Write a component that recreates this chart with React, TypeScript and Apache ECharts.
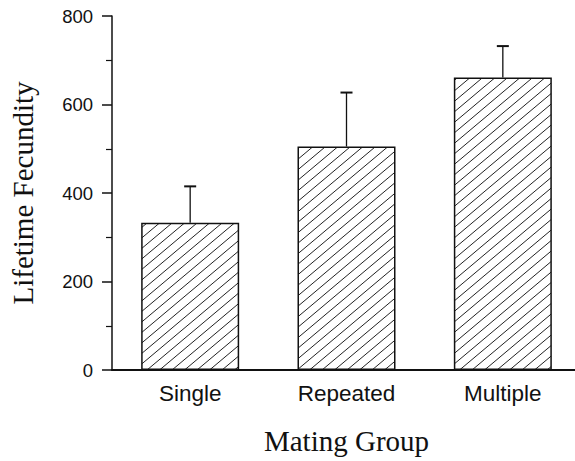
import React, { useEffect, useRef } from "react";
import * as echarts from "echarts";

const categories = ["Single", "Repeated", "Multiple"];
const means = [333, 505, 661];
const errorTops = [415, 627, 732];
const yTicks = { min: 0, max: 800, interval: 200 };

function makeHatch(): HTMLCanvasElement {
  const w = 25;
  const h = 21;
  const c = document.createElement("canvas");
  c.width = w;
  c.height = h;
  const ctx = c.getContext("2d")!;
  ctx.fillStyle = "#ffffff";
  ctx.fillRect(0, 0, w, h);
  ctx.strokeStyle = "#222";
  ctx.lineWidth = 1;
  ctx.beginPath();
  for (let k = -2; k <= 2; k++) {
    const b = k * (h / 2);
    const x0 = -3;
    const x1 = w + 3;
    ctx.moveTo(x0, h - (h / w) * x0 + b);
    ctx.lineTo(x1, h - (h / w) * x1 + b);
  }
  ctx.stroke();
  return c;
}

export default function App() {
  const ref = useRef<HTMLDivElement>(null);
  useEffect(() => {
    const chart = echarts.init(ref.current!, null, { renderer: "svg" });
    const hatch = makeHatch();
    chart.setOption({
      animation: false,
      backgroundColor: "#ffffff",
      grid: { left: 110, right: 0, top: 16, bottom: 91, containLabel: false },
      xAxis: {
        type: "category",
        data: categories,
        name: "Mating Group",
        nameLocation: "middle",
        nameGap: 56,
        nameTextStyle: { fontFamily: "Liberation Serif", fontSize: 29, color: "#111" },
        axisLine: { show: true, lineStyle: { color: "#111", width: 2 } },
        axisTick: { show: false },
        axisLabel: { fontFamily: "Liberation Sans", fontSize: 22.5, color: "#111", margin: 12 },
      },
      yAxis: {
        type: "value",
        min: yTicks.min,
        max: yTicks.max,
        interval: yTicks.interval,
        name: "Lifetime Fecundity",
        nameLocation: "middle",
        nameGap: 75,
        nameTextStyle: { fontFamily: "Liberation Serif", fontSize: 29, color: "#111" },
        axisLine: { show: true, lineStyle: { color: "#111", width: 1.5 } },
        axisTick: { show: true, length: 10, lineStyle: { color: "#111", width: 1.5 } },
        minorTick: { show: true, splitNumber: 2, length: 6, lineStyle: { color: "#111", width: 1.2 } },
        splitLine: { show: false },
        axisLabel: { fontFamily: "Liberation Sans", fontSize: 18.5, color: "#111", margin: 19 },
      },
      series: [
        {
          type: "bar",
          data: means,
          barWidth: 98,
          itemStyle: {
            color: { image: hatch, repeat: "repeat" },
            borderColor: "#111",
            borderWidth: 1.5,
          },
          z: 2,
        },
        {
          type: "custom",
          z: 3,
          data: categories.map((_, i) => [i, means[i], errorTops[i]]),
          renderItem: (params: any, api: any) => {
            const x = api.value(0);
            const base = api.coord([x, api.value(1)]);
            const top = api.coord([x, api.value(2)]);
            const half = 6;
            return {
              type: "group",
              children: [
                {
                  type: "line",
                  shape: { x1: base[0], y1: base[1], x2: top[0], y2: top[1] },
                  style: { stroke: "#111", lineWidth: 1.3 },
                },
                {
                  type: "line",
                  shape: { x1: top[0] - half, y1: top[1], x2: top[0] + half, y2: top[1] },
                  style: { stroke: "#111", lineWidth: 2 },
                },
              ],
            };
          },
        },
      ],
    });
    return () => chart.dispose();
  }, []);
  return (
    <div style={{ position: "absolute", left: 0, top: 0, width: 575, height: 461, overflow: "hidden", background: "#fff" }}>
      <div ref={ref} style={{ width: 581, height: 461 }} />
    </div>
  );
}
